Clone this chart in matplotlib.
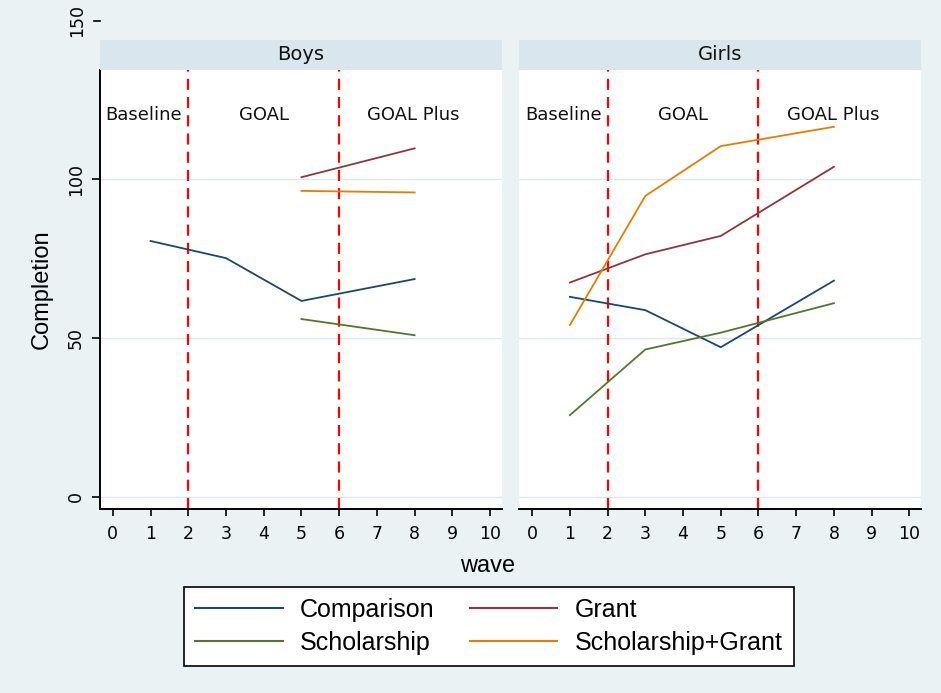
import matplotlib
matplotlib.use("Agg")
import matplotlib.pyplot as plt
from matplotlib.lines import Line2D
import matplotlib.transforms as mtransforms

# ---------------- data ----------------
waves = [1, 3, 5, 8]
waves_late = [5, 8]

boys_comparison = [80.6, 75.2, 61.7, 68.6]
boys_grant = [100.7, 109.8]
boys_scholarship = [56.0, 50.9]
boys_schgrant = [96.4, 95.9]

girls_comparison = [63.0, 58.8, 47.1, 68.1]
girls_grant = [67.5, 76.4, 82.2, 104.0]
girls_scholarship = [25.7, 46.4, 51.7, 61.0]
girls_schgrant = [54.1, 94.8, 110.5, 116.6]

series_names = ["Comparison", "Grant", "Scholarship", "Scholarship+Grant"]
panel_titles = ["Boys", "Girls"]
phase_labels = ["Baseline", "GOAL", "GOAL Plus"]
phase_label_x = [0.82, 4.0, 7.97]
phase_label_y = 120.3
phase_breaks = [2, 6]
xticks = list(range(0, 11))
yticks = [0, 50, 100]
ytick_extra = 150

# ---------------- style ----------------
colors = {"Comparison": "#1a476f", "Grant": "#90353b",
          "Scholarship": "#55752f", "Scholarship+Grant": "#e37e00"}
BG = "#eaf2f3"
STRIP = "#d9e6eb"
GRID = "#dce8ec"

fig = plt.figure(figsize=(9.41, 6.93), dpi=100, facecolor=BG)

W = 0.4269
H = 0.6339
B = 0.2651
lefts = [0.1063, 0.5519]

panels = [
    {"Comparison": (waves, boys_comparison), "Grant": (waves_late, boys_grant),
     "Scholarship": (waves_late, boys_scholarship),
     "Scholarship+Grant": (waves_late, boys_schgrant)},
    {"Comparison": (waves, girls_comparison), "Grant": (waves, girls_grant),
     "Scholarship": (waves, girls_scholarship),
     "Scholarship+Grant": (waves, girls_schgrant)},
]

tickfont = dict(family="DejaVu Sans", size=12.5)

for i, (left, data, title) in enumerate(zip(lefts, panels, panel_titles)):
    ax = fig.add_axes([left, B, W, H])
    ax.set_facecolor("white")
    ax.set_xlim(-0.34, 10.31)
    ax.set_ylim(-3.97, 134.5)
    for y in yticks:
        ax.axhline(y, color=GRID, lw=1.0, zorder=0)
    for xb in phase_breaks:
        ax.axvline(xb, color="#ff0000", lw=1.6, ls=(0, (5, 3.2)), zorder=1)
    for name in series_names:
        xs, ys = data[name]
        ax.plot(xs, ys, color=colors[name], lw=1.3, zorder=3)
    for lab, lx in zip(phase_labels, phase_label_x):
        ax.text(lx, phase_label_y, lab, ha="center", va="center",
                fontsize=13, family="DejaVu Sans", color="#111111", zorder=4)
    for s in ["top", "right"]:
        ax.spines[s].set_visible(False)
    ax.spines["bottom"].set_linewidth(1.4)
    ax.set_xticks(xticks)
    ax.set_xticklabels([str(t) for t in xticks], **tickfont)
    ax.tick_params(axis="x", direction="out", length=5, width=1.2, pad=6,
                   color="black")
    if i == 0:
        ax.spines["left"].set_linewidth(1.4)
        ax.set_yticks(yticks)
        ax.set_yticklabels([str(t) for t in yticks], rotation=90,
                           va="center", **tickfont)
        ax.tick_params(axis="y", direction="out", length=6, width=1.2, pad=5)
        # the 150 tick sits outside the plot region
        trans = mtransforms.blended_transform_factory(ax.transAxes, ax.transData)
        ax.plot([-0.0155, 0.0], [ytick_extra, ytick_extra], transform=trans,
                color="black", lw=1.2, clip_on=False)
        ax.text(-0.035, ytick_extra, str(ytick_extra), transform=trans,
                rotation=90, ha="right", va="center", clip_on=False, **tickfont)
        ax.set_ylabel("Completion", family="Liberation Sans", fontsize=17,
                      labelpad=10)
    else:
        ax.spines["left"].set_visible(False)
        ax.set_yticks(yticks)
        ax.tick_params(axis="y", left=False, labelleft=False)
    # strip
    sax = fig.add_axes([left, B + H, W, 0.0433])
    sax.set_facecolor(STRIP)
    sax.set_xticks([])
    sax.set_yticks([])
    for s in sax.spines.values():
        s.set_visible(False)
    sax.text(0.5, 0.5, title, ha="center", va="center", fontsize=14,
             family="DejaVu Sans", color="#111111", transform=sax.transAxes)

fig.text(0.518, 0.183, "wave", ha="center", va="center",
         family="Liberation Sans", fontsize=17)

handles = [Line2D([], [], color=colors[n], lw=1.5) for n in series_names]
leg = fig.legend([handles[k] for k in [0, 2, 1, 3]],
                 [series_names[k] for k in [0, 2, 1, 3]],
                 ncol=2, loc="center", bbox_to_anchor=(0.5195, 0.0963),
                 frameon=True, fancybox=False, edgecolor="black",
                 facecolor="white", framealpha=1.0,
                 prop={"family": "Liberation Sans", "size": 18},
                 handlelength=3.5, handletextpad=0.7, columnspacing=1.4,
                 labelspacing=0.35, borderpad=0.45)
leg.get_frame().set_linewidth(1.2)

fig.savefig("out.png", dpi=100, facecolor=BG)
